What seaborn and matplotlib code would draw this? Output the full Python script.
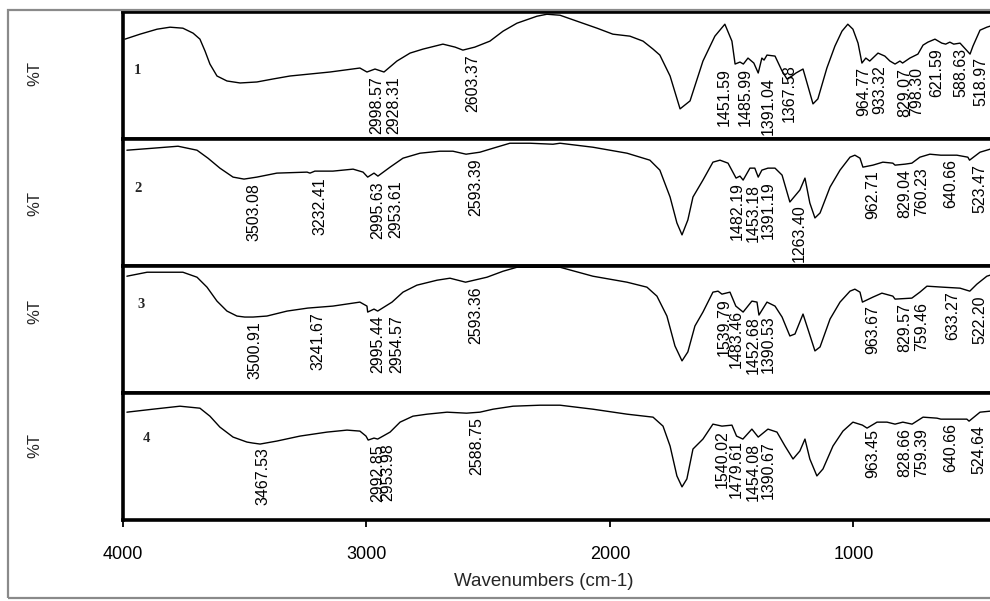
import numpy as np
import pandas as pd
import matplotlib
matplotlib.use("Agg")
import matplotlib.pyplot as plt
from matplotlib.patches import Rectangle
import seaborn as sns

# ---------------- data (wavenumber cm-1, %T in arbitrary per-panel units) ----------------
wn_1 = [3992, 3930, 3860, 3807, 3754, 3712, 3684, 3663, 3643, 3614, 3573, 3519, 3450, 3384, 3314,
        3232, 3150, 3027, 2998, 2965, 2928, 2875, 2821, 2768, 2686, 2636, 2604, 2555, 2493, 2439,
        2382, 2300, 2259, 2205, 2135, 2053, 1988, 1918, 1864, 1823, 1795, 1753, 1712, 1671, 1618,
        1569, 1528, 1499, 1486, 1466, 1452, 1433, 1409, 1391, 1376, 1367, 1355, 1322, 1293, 1273,
        1252, 1236, 1207, 1187, 1166, 1146, 1109, 1076, 1047, 1023, 1002, 981, 965, 949, 933,
        899, 871, 850, 829, 809, 798, 768, 735, 714, 694, 665, 637, 621, 604, 588, 562, 521, 509,
        480, 452, 439, 430]
t_1 = [79.2, 83.2, 87.2, 88.8, 88.0, 84.0, 79.2, 69.6, 59.2, 49.6, 45.6, 44.0, 44.8, 47.2, 49.6,
       51.2, 52.8, 56.0, 52.8, 55.2, 52.8, 61.6, 68.0, 71.2, 75.2, 72.8, 70.4, 72.8, 77.6, 85.6,
       92.0, 97.6, 99.2, 98.4, 93.6, 88.0, 83.2, 81.6, 77.6, 71.2, 66.4, 49.6, 23.2, 29.6, 61.6,
       81.6, 91.2, 77.6, 59.2, 60.8, 59.2, 64.0, 60.0, 52.0, 64.0, 62.4, 66.4, 65.6, 53.6, 47.2,
       49.6, 52.0, 55.2, 41.6, 27.2, 31.2, 56.0, 73.6, 85.6, 91.2, 87.2, 76.0, 60.0, 64.0, 61.6,
       68.0, 65.6, 61.6, 59.2, 61.6, 60.0, 64.0, 67.2, 74.4, 76.8, 79.2, 76.0, 75.2, 76.8, 75.2,
       76.0, 67.2, 73.6, 86.4, 88.8, 89.6, 90.4]

wn_2 = [3984, 3877, 3774, 3696, 3651, 3602, 3548, 3503, 3450, 3368, 3244, 3232, 3212, 3138, 3055,
        3014, 2995, 2969, 2953, 2903, 2850, 2780, 2698, 2645, 2591, 2534, 2480, 2411, 2328, 2234,
        2205, 2070, 1930, 1836, 1795, 1753, 1725, 1704, 1680, 1659, 1618, 1577, 1548, 1515, 1482,
        1466, 1453, 1425, 1405, 1391, 1376, 1351, 1322, 1293, 1261, 1244, 1220, 1199, 1179, 1158,
        1137, 1096, 1055, 1014, 994, 973, 961, 920, 879, 838, 829, 788, 760, 727, 686, 641,
        575, 530, 523, 480, 439, 430]
t_2 = [92.0, 93.6, 95.2, 92.0, 85.6, 77.6, 70.4, 68.8, 70.4, 73.6, 74.4, 73.6, 75.2, 75.2, 76.8,
       74.4, 70.4, 73.6, 71.2, 78.4, 85.6, 89.6, 91.2, 91.2, 88.8, 90.4, 93.6, 97.6, 97.6, 96.8,
       97.6, 94.4, 89.6, 84.0, 76.0, 54.4, 33.6, 24.0, 36.0, 54.4, 68.0, 82.4, 84.0, 81.6, 69.6,
       71.2, 68.0, 77.6, 77.6, 70.4, 76.0, 77.6, 77.6, 72.0, 50.4, 54.4, 60.0, 69.6, 49.6, 37.6,
       41.6, 62.4, 76.0, 86.4, 88.0, 85.6, 78.4, 80.0, 82.4, 81.6, 80.0, 80.8, 81.6, 86.4, 88.8, 88.0,
       88.0, 86.4, 84.0, 90.4, 92.8, 93.2]

wn_3 = [3984, 3901, 3754, 3696, 3655, 3614, 3573, 3532, 3500, 3466, 3409, 3326, 3241, 3138, 3027,
        2998, 2995, 2969, 2954, 2895, 2850, 2793, 2710, 2657, 2593, 2505, 2439, 2382, 2205, 2070,
        1930, 1848, 1807, 1766, 1733, 1704, 1680, 1651, 1618, 1577, 1556, 1540, 1507, 1483, 1453,
        1417, 1396, 1388, 1355, 1322, 1293, 1261, 1240, 1207, 1183, 1158, 1137, 1096, 1055, 1014,
        994, 973, 963, 920, 883, 838, 829, 760, 727, 698, 633, 562, 522, 493, 452, 439, 430]
t_3 = [92.8, 96.0, 96.0, 92.0, 84.0, 72.8, 64.8, 60.8, 60.0, 60.0, 60.8, 64.8, 67.2, 68.8, 72.0,
       68.8, 64.0, 66.4, 64.8, 72.0, 80.0, 85.6, 89.6, 91.2, 88.0, 92.0, 96.8, 100.0, 100.0, 92.8,
       88.0, 84.0, 76.8, 60.8, 36.8, 24.8, 32.0, 52.8, 64.0, 80.0, 80.8, 78.4, 80.0, 68.8, 64.0,
       72.8, 72.0, 61.6, 72.0, 68.8, 60.0, 44.8, 46.4, 62.4, 48.0, 32.8, 36.0, 58.4, 72.0, 80.8,
       82.4, 80.0, 72.0, 76.0, 79.2, 76.8, 74.4, 75.2, 80.0, 84.8, 84.0, 83.2, 80.8, 86.4, 92.8, 93.6, 94.0]

wn_4 = [3984, 3877, 3766, 3684, 3643, 3602, 3548, 3491, 3467, 3437, 3368, 3273, 3162, 3080, 3027,
        3002, 2993, 2969, 2954, 2932, 2903, 2862, 2809, 2751, 2669, 2589, 2534, 2480, 2398, 2287,
        2205, 2070, 1930, 1823, 1782, 1753, 1725, 1704, 1684, 1659, 1618, 1577, 1540, 1499, 1480,
        1454, 1417, 1391, 1351, 1314, 1281, 1248, 1220, 1199, 1179, 1150, 1125, 1084, 1043, 1002,
        963, 944, 903, 862, 829, 797, 759, 714, 657, 641, 534, 525, 480, 439, 430]
t_4 = [85.6, 88.0, 90.4, 88.8, 82.4, 73.6, 65.6, 61.6, 60.8, 60.0, 62.4, 66.4, 69.6, 71.2, 70.4,
       66.4, 63.2, 64.8, 64.0, 66.4, 69.6, 77.6, 82.4, 84.0, 85.6, 84.8, 85.6, 88.0, 90.4, 91.2,
       91.2, 88.0, 84.0, 81.6, 74.4, 58.4, 34.4, 25.6, 32.0, 56.0, 64.0, 76.0, 74.4, 75.2, 66.4,
       64.0, 72.0, 65.6, 72.0, 69.6, 58.4, 48.0, 54.4, 64.0, 48.0, 34.4, 40.0, 58.4, 70.4, 77.6,
       75.2, 72.8, 77.6, 77.6, 76.0, 77.6, 76.0, 81.6, 80.8, 80.0, 80.0, 78.4, 85.6, 86.4, 86.8]

peaks_1 = ["2998.57", "2928.31", "2603.37", "1451.59", "1485.99", "1391.04", "1367.58",
           "964.77", "933.32", "829.07", "798.30", "621.59", "588.63", "518.97"]
peaks_2 = ["3503.08", "3232.41", "2995.63", "2953.61", "2593.39", "1482.19", "1453.18",
           "1391.19", "1263.40", "962.71", "829.04", "760.23", "640.66", "523.47"]
peaks_3 = ["3500.91", "3241.67", "2995.44", "2954.57", "2593.36", "1539.79", "1483.46",
           "1452.68", "1390.53", "963.67", "829.57", "759.46", "633.27", "522.20"]
peaks_4 = ["3467.53", "2992.85", "2953.98", "2588.75", "1540.02", "1479.61", "1454.08",
           "1390.67", "963.45", "828.66", "759.39", "640.66", "524.64"]

panel_names = ["1", "2", "3", "4"]
x_ticks = [4000, 3000, 2000, 1000]
x_label = "Wavenumbers (cm-1)"
y_label = "%T"

spectra = [(wn_1, t_1, peaks_1), (wn_2, t_2, peaks_2), (wn_3, t_3, peaks_3), (wn_4, t_4, peaks_4)]

# ---------------- layout / style ----------------
sns.set_style("white")
plt.rcParams["font.family"] = ["Liberation Sans", "DejaVu Sans"]

W, H = 990, 601
fig = plt.figure(figsize=(W / 100, H / 100), dpi=100)

# outer picture frame
fig.patches.append(Rectangle((8 / W, 1 - 598 / H), 1.2, (598 - 10) / H,
                             transform=fig.transFigure, fill=False,
                             edgecolor="#8a8a8a", lw=1.6, zorder=0))

left_px, top_px, panel_h = 123, 12, 127
# label x-nudges in pixels (overlapping labels shifted by the software)
nudge = {(0, "1451.59"): -29, (0, "1367.58"): 15, (0, "621.59"): -19,
         (0, "964.77"): -8, (0, "798.30"): 4, (0, "588.63"): -3,
         (1, "1482.19"): -9, (1, "2953.61"): 8,
         (2, "1539.79"): -8, (2, "1483.46"): -9, (2, "2954.57"): 9,
         (3, "1540.02"): -10, (3, "1479.61"): -10}
num_pos = [(0.013, 0.54), (0.013, 0.61), (0.017, 0.70), (0.023, 0.64)]
ylab_px = [74, 204, 312, 446]

axes = []
for i, (wn, tt, peaks) in enumerate(spectra):
    bottom_px = top_px + panel_h * (i + 1)
    ax = fig.add_axes([left_px / W, 1 - bottom_px / H, 1 - left_px / W, panel_h / H])
    axes.append(ax)
    df = pd.DataFrame({"wn": wn, "T": tt})
    sns.lineplot(data=df, x="wn", y="T", ax=ax, color="black", lw=1.0,
                 estimator=None, sort=False)
    ax.set_xlim(4000, 439)
    ax.set_ylim(-1, 101)
    ax.set_xlabel("")
    ax.set_ylabel("")
    ax.set_yticks([])
    for s in ["top", "bottom", "left"]:
        ax.spines[s].set_visible(True)
        ax.spines[s].set_linewidth(2.6)
        ax.spines[s].set_color("black")
    ax.spines["right"].set_visible(False)

    xs = np.array(wn[::-1], dtype=float)
    ys = np.array(tt[::-1], dtype=float)
    for lab in peaks:
        v = float(lab)
        yv = np.interp(v, xs, ys)
        dx = 10 + nudge.get((i, lab), 0)
        ax.annotate(lab, xy=(v, yv), xytext=(dx, -4), textcoords="offset pixels",
                    rotation=90, ha="center", va="top", fontsize=11.5,
                    color="black", annotation_clip=False)

    nx, ny = num_pos[i]
    ax.text(nx, ny, panel_names[i], transform=ax.transAxes, fontsize=10.5,
            fontweight="bold", family="Liberation Serif", va="center", ha="left")

    fig.text(35 / W, 1 - ylab_px[i] / H, y_label, rotation=90,
             ha="center", va="center", fontsize=12)

    if i < 3:
        ax.set_xticks([])
    else:
        ax.set_xticks(x_ticks)
        ax.set_xticklabels([str(t) for t in x_ticks], fontsize=13)
        ax.tick_params(axis="x", direction="out", length=5, width=1.3, pad=14,
                       bottom=True, colors="black")

fig.text(544 / W, 1 - 582 / H, x_label, ha="center", va="center", fontsize=13.5)

fig.savefig("out.png", dpi=100, facecolor="white")
